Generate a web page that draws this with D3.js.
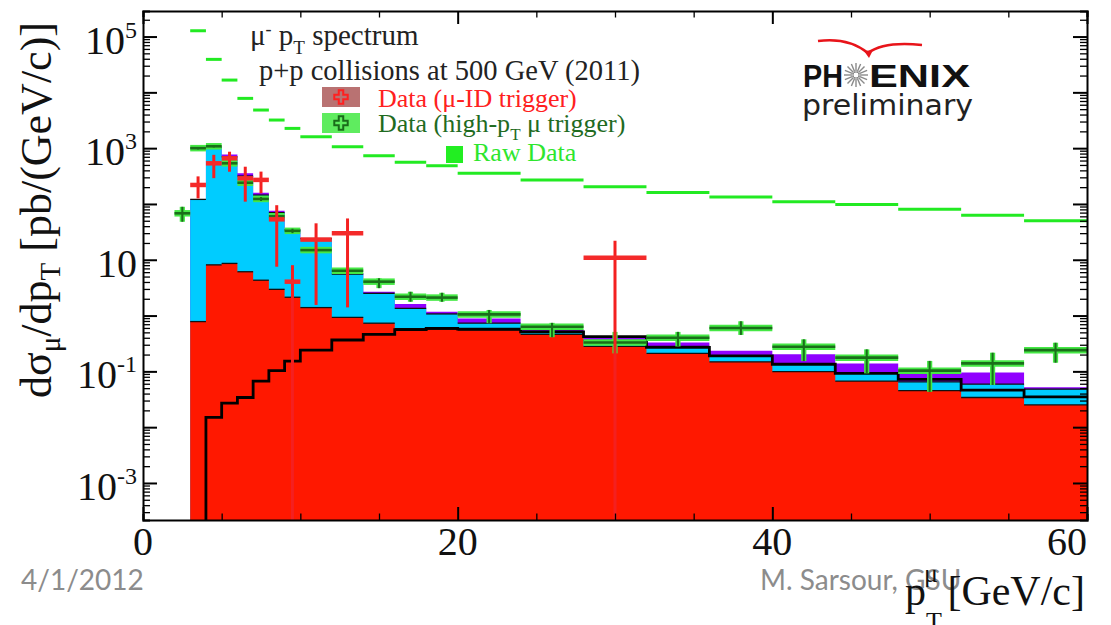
<!DOCTYPE html>
<html>
<head>
<meta charset="utf-8">
<script src="https://cdn.jsdelivr.net/npm/d3@7"></script>
<style>
  body { margin: 0; background: #fff; }
  svg { display: block; }
  .serif { font-family: "Liberation Serif", "Times New Roman", serif; }
</style>
</head>
<body>
<script>
// ---- DATA ----
// background stack bins, GeV/c
const binLo = [3, 4, 5, 6, 7, 8, 9, 10, 12, 14, 16, 18, 20, 24, 28, 32, 36, 40, 44, 48, 52, 56];
const binHi = [4, 5, 6, 7, 8, 9, 10, 12, 14, 16, 18, 20, 24, 28, 32, 36, 40, 44, 48, 52, 56, 60];

// stacked components (pb/(GeV/c)), bottom to top
const redBkg    = [0.78, 8.1, 8.6, 6.1, 4.3, 2.95, 2.13, 1.39, 0.93, 0.73, 0.58, 0.57, 0.55, 0.46, 0.28, 0.21, 0.148, 0.099, 0.067, 0.045, 0.034, 0.025];
const cyanBkg   = [120, 1040, 690, 310, 140, 67, 32, 22.6, 4.6, 1.77, 0.77, 0.50, 0.18, 0.06, 0.08, 0.07, 0.039, 0.035, 0.025, 0.020, 0.025, 0.023];
const purpleBkg = [0, 0, 75, 38, 14, 6, 1, 0.5, 0.2, 0.18, 0.26, 0.10, 0.16, 0.04, 0.06, 0.05, 0.046, 0.068, 0.047, 0.025, 0.036, 0.004];

// black step line (starts at 4 GeV/c)
const signalLine = [null, 0.015, 0.027, 0.034, 0.067, 0.103, 0.153, 0.24, 0.365, 0.46, 0.56, 0.59, 0.57, 0.51, 0.42, 0.27, 0.19, 0.134, 0.092, 0.072, 0.046, 0.035];

// raw data, same bins
const rawData = [127000, 39000, 16600, 7800, 4820, 3190, 2260, 1600, 1060, 731, 557, 484, 354, 269, 204, 160, 133, 110, 98, 80, 62.5, 50];

// Data (high-pT mu trigger)
const hiLo  = [2, 3, 4, 5, 6, 7, 8, 9, 10, 12, 14, 16, 18, 20, 24, 28, 32, 36, 40, 44, 48, 52, 56];
const hiHi  = [3, 4, 5, 6, 7, 8, 9, 10, 12, 14, 16, 18, 20, 24, 28, 32, 36, 40, 44, 48, 52, 56, 60];
const hiVal = [68, 1000, 1080, 535, 240, 123, 60, 33, 14.9, 6.35, 4.05, 2.18, 2.1, 1.05, 0.63, 0.33, 0.40, 0.60, 0.277, 0.176, 0.103, 0.139, 0.24];
const hiErrLo = [48, 950, 1030, 500, 222, 113, 55, 30, 14, 5.6, 3.1, 1.77, 1.77, 0.73, 0.41, 0.21, 0.28, 0.45, 0.153, 0.092, 0.043, 0.057, 0.143];
const hiErrHi = [89, 1050, 1130, 570, 258, 133, 65, 36, 15.8, 7.1, 4.66, 2.67, 2.56, 1.26, 0.74, 0.51, 0.51, 0.79, 0.375, 0.248, 0.154, 0.216, 0.326];

// Data (mu-ID trigger); lower error 0 means it runs off the axis
const idLo  = [3, 4, 5, 6, 7, 8, 9, 10, 12, 28];
const idHi  = [4, 5, 6, 7, 8, 9, 10, 12, 14, 32];
const idVal = [219, 535, 658, 288, 270, 53, 4.05, 23, 29.8, 10.9];
const idErrLo = [126, 290, 378, 110, 155, 7.5, 0, 1.55, 1.4, 0];
const idErrHi = [312, 760, 863, 465, 380, 95, 8, 45, 55, 21.9];

const xLabelTicks = [0, 20, 40, 60];
const yLabelPowers = [5, 3, 1, -1, -3];

// ---- LAYOUT ----
const margin = {top: 11, right: 24, bottom: 105, left: 143};
const width = 1111 - margin.left - margin.right;
const height = 625 - margin.top - margin.bottom;

const yMin = 2.17e-4, yMax = 2.87e5;

const svg = d3.select('body').append('svg')
  .attr('width', 1111)
  .attr('height', 625);

svg.append('rect').attr('width', 1111).attr('height', 625).attr('fill', '#fff');

// footer text of the slide (drawn first, the axis title sits on top of it)
svg.append('text')
  .attr('x', 21).attr('y', 590)
  .style('font-family', 'Lato, "Open Sans", sans-serif')
  .style('font-size', '28px')
  .attr('fill', '#8c8c8c')
  .text('4/1/2012');
svg.append('text')
  .attr('x', 760).attr('y', 590)
  .style('font-family', 'Lato, "Open Sans", sans-serif')
  .style('font-size', '28px')
  .attr('fill', '#8c8c8c')
  .text('M. Sarsour, GSU');

const g = svg.append('g')
  .attr('transform', `translate(${margin.left}, ${margin.top})`);

const x = d3.scaleLinear().domain([0, 60]).range([0, width]);
const y = d3.scaleLog().domain([yMin, yMax]).range([height, 0]);
const yc = v => y(Math.max(v, yMin));

// ---- stacked background ----
const bins = binLo.map((lo, i) => ({lo, hi: binHi[i], red: redBkg[i], cyan: cyanBkg[i], purple: purpleBkg[i]}));
const stack = d3.stack().keys(['red', 'cyan', 'purple'])(bins);
const layerColor = {red: '#ff1800', cyan: '#00ccff', purple: '#9000ff'};

const area = d3.area()
  .curve(d3.curveStepAfter)
  .x(d => x(d.x))
  .y0(() => height)
  .y1(d => yc(d.y1));

stack.slice().reverse().forEach(layer => {
  const pts = layer.map(d => ({x: d.data.lo, y1: d[1]}));
  const last = layer[layer.length - 1];
  pts.push({x: last.data.hi, y1: last[1]});
  // paint each layer from the axis bottom so no seams show
  g.append('path')
    .datum(pts)
    .attr('fill', layerColor[layer.key])
    .attr('d', area);
});

// thin black edges on top of red and cyan
[stack[0], stack[1]].forEach(layer => {
  g.append('g').selectAll('line')
    .data(layer)
    .enter().append('line')
    .attr('x1', d => x(d.data.lo))
    .attr('x2', d => x(d.data.hi))
    .attr('y1', d => yc(d[1]))
    .attr('y2', d => yc(d[1]))
    .attr('stroke', '#111')
    .attr('stroke-width', 1.3);
});

// black step line
const sigPts = [];
binLo.forEach((lo, i) => { if (signalLine[i] != null) sigPts.push({x: lo, v: signalLine[i]}); });
sigPts.unshift({x: sigPts[0].x, v: yMin});
sigPts.push({x: binHi[binHi.length - 1], v: signalLine[signalLine.length - 1]});
g.append('path')
  .datum(sigPts)
  .attr('fill', 'none')
  .attr('stroke', '#000')
  .attr('stroke-width', 2.8)
  .attr('d', d3.line().curve(d3.curveStepAfter).x(d => x(d.x)).y(d => yc(d.v)));

// raw data dashes
g.append('g').selectAll('line')
  .data(rawData)
  .enter().append('line')
  .attr('x1', (d, i) => x(binLo[i]))
  .attr('x2', (d, i) => x(binHi[i]))
  .attr('y1', d => y(d))
  .attr('y2', d => y(d))
  .attr('stroke', '#22ea22')
  .attr('stroke-width', 3);

// high-pT trigger data: light halo + dark core
const hiData = hiVal.map((v, i) => ({lo: hiLo[i], hi: hiHi[i], v, el: hiErrLo[i], eh: hiErrHi[i]}));
[['#45e845', 6.5], ['#1a6e1a', 2.6]].forEach(([col, w]) => {
  const hg = g.append('g');
  hg.selectAll('.h').data(hiData).enter().append('line')
    .attr('x1', d => x(d.lo)).attr('x2', d => x(d.hi))
    .attr('y1', d => y(d.v)).attr('y2', d => y(d.v))
    .attr('stroke', col).attr('stroke-width', w);
  hg.selectAll('.v').data(hiData).enter().append('line')
    .attr('x1', d => x((d.lo + d.hi) / 2)).attr('x2', d => x((d.lo + d.hi) / 2))
    .attr('y1', d => yc(d.el)).attr('y2', d => yc(d.eh))
    .attr('stroke', col).attr('stroke-width', w * 0.8);
});

// mu-ID trigger data
const idData = idVal.map((v, i) => ({lo: idLo[i], hi: idHi[i], v, el: idErrLo[i], eh: idErrHi[i]}));
const idg = g.append('g');
idg.selectAll('.v').data(idData).enter().append('line')
  .attr('x1', d => x((d.lo + d.hi) / 2)).attr('x2', d => x((d.lo + d.hi) / 2))
  .attr('y1', d => yc(d.el)).attr('y2', d => yc(d.eh))
  .attr('stroke', '#f42020').attr('stroke-width', 3);
idg.selectAll('.h').data(idData).enter().append('line')
  .attr('x1', d => x(d.lo)).attr('x2', d => x(d.hi))
  .attr('y1', d => y(d.v)).attr('y2', d => y(d.v))
  .attr('stroke', '#f42a2a').attr('stroke-width', 4.5);

// ---- axes ----
const xTickVals = d3.range(0, 61, 5);
const yTickVals = [];
for (let k = -4; k <= 5; k++) {
  for (let m = 1; m <= 9; m++) {
    const v = m * Math.pow(10, k);
    if (v >= yMin && v <= yMax) yTickVals.push(v);
  }
}
const isMajorY = v => Math.abs(Math.log10(v) - Math.round(Math.log10(v))) < 1e-9;
const isMajorX = v => v % 20 === 0;

function styleAxis(sel, majorTest, majorLen, minorLen, sign, attr) {
  sel.select('.domain').attr('stroke', '#000').attr('stroke-width', 2);
  sel.selectAll('.tick line')
    .attr('stroke', '#000')
    .attr('stroke-width', d => majorTest(d) ? 2 : 1.3)
    .attr(attr, d => (majorTest(d) ? majorLen : minorLen) * sign);
  sel.selectAll('.tick text').remove();
}

g.append('g').attr('transform', `translate(0, ${height})`)
  .call(d3.axisBottom(x).tickValues(xTickVals).tickSize(-6).tickFormat(''))
  .call(s => styleAxis(s, isMajorX, 13, 6.5, -1, 'y2'));
g.append('g')
  .call(d3.axisTop(x).tickValues(xTickVals).tickSize(-6).tickFormat(''))
  .call(s => styleAxis(s, isMajorX, 13, 6.5, 1, 'y2'));
g.append('g')
  .call(d3.axisLeft(y).tickValues(yTickVals).tickSize(-7).tickFormat(''))
  .call(s => styleAxis(s, isMajorY, 14, 7, 1, 'x2'));
g.append('g').attr('transform', `translate(${width}, 0)`)
  .call(d3.axisRight(y).tickValues(yTickVals).tickSize(-7).tickFormat(''))
  .call(s => styleAxis(s, isMajorY, 14, 7, -1, 'x2'));

// x tick labels
g.append('g').selectAll('text')
  .data(xLabelTicks)
  .enter().append('text')
  .attr('class', 'serif')
  .attr('x', d => x(d))
  .attr('y', height + 35)
  .attr('text-anchor', (d, i) => i === xLabelTicks.length - 1 ? 'end' : 'middle')
  .style('font-size', '40px')
  .attr('fill', '#111')
  .text(d => d);

// y tick labels, 10^n
const yl = g.append('g').selectAll('text')
  .data(yLabelPowers)
  .enter().append('text')
  .attr('class', 'serif')
  .attr('x', -6)
  .attr('y', d => y(Math.pow(10, d)) + 17)
  .attr('text-anchor', 'end')
  .style('font-size', '40px')
  .attr('fill', '#111');
yl.append('tspan').text('10');
yl.filter(d => d !== 1).append('tspan')
  .attr('dy', -16)
  .style('font-size', '24px')
  .text(d => d < 0 ? '-' + (-d) : d);

// axis titles
const ytitle = svg.append('text')
  .attr('class', 'serif')
  .attr('transform', 'translate(51, 210) rotate(-90)')
  .attr('text-anchor', 'middle')
  .style('font-size', '44px')
  .attr('fill', '#111');
ytitle.append('tspan').text('dσ');
ytitle.append('tspan').attr('dy', 9).style('font-size', '29px').text('μ');
ytitle.append('tspan').attr('dy', -9).text('/dp');
ytitle.append('tspan').attr('dy', 9).style('font-size', '29px').text('T');
ytitle.append('tspan').attr('dy', -9).text(' [pb/(GeV/c)]');

const xt = svg.append('g').attr('class', 'serif').attr('fill', '#111');
xt.append('text').attr('x', 1085).attr('y', 605).attr('text-anchor', 'end')
  .style('font-size', '42px').text('[GeV/c]');
xt.append('text').attr('x', 905).attr('y', 605).style('font-size', '42px').text('p');
xt.append('text').attr('x', 924).attr('y', 582).style('font-size', '26px').text('μ');
xt.append('text').attr('x', 926).attr('y', 630).style('font-size', '26px').text('T');

// ---- legend ----
const lg = svg.append('g').attr('class', 'serif');
const head = lg.append('text').attr('x', 250).attr('y', 45).style('font-size', '29px').attr('fill', '#222');
head.append('tspan').text('μ');
head.append('tspan').attr('dy', -10).style('font-size', '18px').text('-');
head.append('tspan').attr('dy', 10).text(' p');
head.append('tspan').attr('dy', 9).style('font-size', '19px').text('T');
head.append('tspan').attr('dy', -9).text(' spectrum');
lg.append('text').attr('x', 259).attr('y', 80).style('font-size', '28.5px').attr('fill', '#222')
  .text('p+p collisions at 500 GeV (2011)');

lg.append('rect').attr('x', 322).attr('y', 87).attr('width', 38).attr('height', 20).attr('fill', '#b97272');
lg.append('path').attr('transform', 'translate(341, 97)')
  .attr('d', d3.symbol(d3.symbolCross).size(100)())
  .attr('fill', 'none').attr('stroke', '#ff2020').attr('stroke-width', 2);
lg.append('text').attr('x', 378).attr('y', 107).style('font-size', '26px').attr('fill', '#ff2020')
  .text('Data (μ-ID trigger)');

lg.append('rect').attr('x', 322).attr('y', 113).attr('width', 38).attr('height', 20).attr('fill', '#5fec5f');
lg.append('path').attr('transform', 'translate(341, 123)')
  .attr('d', d3.symbol(d3.symbolCross).size(100)())
  .attr('fill', 'none').attr('stroke', '#1a6b1a').attr('stroke-width', 2);
const hiTxt = lg.append('text').attr('x', 378).attr('y', 132).style('font-size', '26px').attr('fill', '#1f6b1f');
hiTxt.append('tspan').text('Data (high-p');
hiTxt.append('tspan').attr('dy', 8).style('font-size', '17px').text('T');
hiTxt.append('tspan').attr('dy', -8).text(' μ trigger)');

lg.append('rect').attr('x', 446).attr('y', 146).attr('width', 17).attr('height', 17).attr('fill', '#22ee22');
lg.append('text').attr('x', 473).attr('y', 161).style('font-size', '26px').attr('fill', '#2ee62e')
  .text('Raw Data');

// ---- PHENIX preliminary logo ----
const logo = svg.append('g');
logo.append('path')
  .attr('d', 'M818,41 Q848,37 868,53 Q884,41 922,45')
  .attr('fill', 'none').attr('stroke', '#e8141a').attr('stroke-width', 2.5);
logo.append('path').attr('d', 'M864,51 L869,58 L873,50 Z').attr('fill', '#e8141a');
logo.append('text').attr('x', 803).attr('y', 87)
  .style('font-family', '"Liberation Sans", Arial, sans-serif').style('font-weight', 'bold')
  .style('font-size', '32px').attr('fill', '#111')
  .attr('textLength', 40).attr('lengthAdjust', 'spacingAndGlyphs').text('PH');
logo.append('text').attr('x', 869).attr('y', 87)
  .style('font-family', '"Liberation Sans", Arial, sans-serif').style('font-weight', 'bold')
  .style('font-size', '32px').attr('fill', '#111')
  .attr('textLength', 101).attr('lengthAdjust', 'spacingAndGlyphs').text('ENIX');
const star = logo.append('g').attr('transform', 'translate(856, 75)');
star.selectAll('line').data(d3.range(16)).enter().append('line')
  .attr('x1', d => 3.5 * Math.cos(d * Math.PI / 8)).attr('y1', d => 3.5 * Math.sin(d * Math.PI / 8))
  .attr('x2', d => 12 * Math.cos(d * Math.PI / 8)).attr('y2', d => 12 * Math.sin(d * Math.PI / 8))
  .attr('stroke', '#8a8a8a').attr('stroke-width', 1.4);
star.append('circle').attr('r', 3).attr('fill', '#fff').attr('stroke', '#8a8a8a').attr('stroke-width', 1);
logo.append('text').attr('x', 802).attr('y', 115)
  .style('font-family', '"DejaVu Sans", sans-serif')
  .style('font-size', '28px').attr('fill', '#222')
  .attr('textLength', 171).attr('lengthAdjust', 'spacingAndGlyphs').text('preliminary');
</script>
</body>
</html>
